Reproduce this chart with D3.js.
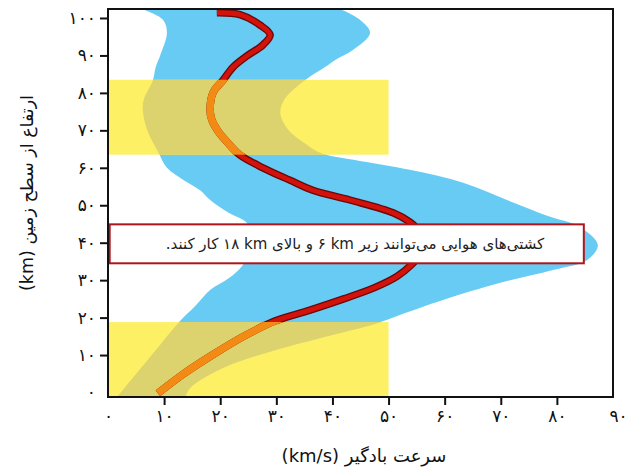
<!DOCTYPE html>
<html>
<head>
<meta charset="utf-8">
<script src="https://cdn.jsdelivr.net/npm/d3@7"></script>
<style>
    body { margin: 0; background: #fff; }
    text { font-family: "DejaVu Sans", sans-serif; }
</style>
</head>
<body>
<div id="chart-area"></div>
<script>
// wind speed vs altitude

// mean speed profile (km/s) against altitude (km)
let meanAlt = [101.4, 100.9, 98.1, 95.5, 92.8, 89.9, 86.9, 83.4, 80, 75.4, 72.8, 69.8, 66.1, 63.4, 60, 56.7, 54, 51.4, 48, 45.5, 43, 40, 37, 34, 31, 28, 25, 22, 19, 15, 10, 5, -0.2];
let meanSpeed = [19.4, 23.5, 27.1, 28.9, 27.6, 24.8, 22.3, 20.5, 18.7, 18.2, 18.5, 19.6, 21.7, 23.5, 27.6, 32.4, 36.5, 43.1, 50.8, 53.8, 55.5, 56.3, 55.7, 54, 51.5, 47.5, 42, 36, 29.6, 24.2, 18.6, 13.5, 8.9];

// spread around the mean: left edge (top to bottom)
let lowAlt = [104, 102.4, 99.5, 96, 90, 86.9, 83.4, 78.4, 75.4, 70, 64, 60, 56.7, 54, 51.4, 48, 45.2, 40, 34, 30.5, 27.4, 23, 19, 10, 0, -3];
let lowSpeed = [4.2, 6.2, 9.8, 10.5, 9.3, 8.5, 8.0, 6.4, 6.2, 7.0, 9.0, 10.5, 13.5, 16.4, 18.2, 21.5, 24.8, 25.8, 24.0, 21.5, 18.2, 15.5, 12.8, 7.8, 2.3, 0.8];

// spread around the mean: right edge (bottom to top)
let highAlt = [-3, -1.2, 1.4, 6.8, 11.3, 15.9, 18.3, 20.7, 24.7, 29.3, 32.7, 35.4, 39.4, 44.2, 46.9, 51.4, 56, 59.4, 62.1, 63.9, 66.1, 70, 74.6, 78.4, 83.4, 86.9, 88.8, 91.5, 96, 99.5, 102.4, 104];
let highSpeed = [12.9, 13.7, 14.8, 20.9, 29.8, 41.5, 47.6, 52.0, 59.7, 69.9, 79.3, 85.4, 87.3, 84.1, 78.8, 71.1, 63.3, 54.0, 44.0, 38.0, 35.5, 32.2, 30.7, 31.5, 35.1, 38.7, 40.5, 43.7, 46.7, 44.9, 41.4, 39.0];

// aircraft altitude bands (km) and their speed extent
let bandBottom = [-1.2, 63.5];
let bandTop = [18.8, 83.5];
let bandSpeed = 50;

let xTicks = [0, 10, 20, 30, 40, 50, 60, 70, 80, 90];
let xTickLabels = ["۰", "۱۰", "۲۰", "۳۰", "۴۰", "۵۰", "۶۰", "۷۰", "۸۰", "۹۰"];
let yTicks = [0, 10, 20, 30, 40, 50, 60, 70, 80, 90, 100];
let yTickLabels = ["۰", "۱۰", "۲۰", "۳۰", "۴۰", "۵۰", "۶۰", "۷۰", "۸۰", "۹۰", "۱۰۰"];

// the number+unit pairs are kept as left-to-right isolates so they read "km ۶" like the picture
let noteText = "کشتی‌های هوایی می‌توانند زیر \u2066۶ km\u2069 و بالای \u2066۱۸ km\u2069 کار کنند.";
let noteSpeed = [0.3, 84.8];
let noteAlt = [34.5, 44.9];

let xTitle = "سرعت بادگیر (km/s)";
let yTitle = "ارتفاع از سطح زمین (km)";

class WindChart {
    constructor(parentElement) {
        this.parentElement = parentElement;
        this.initVis();
    }

    initVis() {
        let vis = this;

        vis.width = 636;
        vis.height = 470;
        vis.left = 108;
        vis.right = 613;
        vis.top = 9;
        vis.bottom = 397;

        vis.svg = d3.select(vis.parentElement).append("svg")
            .attr("width", vis.width)
            .attr("height", vis.height);

        vis.x = d3.scaleLinear().domain([0, 90]).range([vis.left, vis.right]);
        vis.y = d3.scaleLinear().domain([-1.2, 102.4]).range([vis.bottom, vis.top]);

        let defs = vis.svg.append("defs");
        defs.append("clipPath").attr("id", "plot-clip")
            .append("rect")
            .attr("x", vis.left).attr("y", vis.top)
            .attr("width", vis.right - vis.left).attr("height", vis.bottom - vis.top);

        vis.bands = bandBottom.map((b, i) => ({ low: b, high: bandTop[i] }));
        defs.append("clipPath").attr("id", "band-clip")
            .selectAll("rect")
            .data(vis.bands)
            .enter().append("rect")
            .attr("x", vis.x(0))
            .attr("y", d => vis.y(d.high))
            .attr("width", vis.x(bandSpeed) - vis.x(0))
            .attr("height", d => vis.y(d.low) - vis.y(d.high));

        vis.plot = vis.svg.append("g").attr("clip-path", "url(#plot-clip)");

        vis.drawSpread();
        vis.drawMean();
        vis.drawNote();
        vis.drawAxes();
    }

    drawSpread() {
        let vis = this;

        let edge = lowAlt.map((a, i) => ({ alt: a, v: lowSpeed[i] }))
            .concat(highAlt.map((a, i) => ({ alt: a, v: highSpeed[i] })));

        let line = d3.line()
            .x(d => vis.x(d.v))
            .y(d => vis.y(d.alt))
            .curve(d3.curveCatmullRom.alpha(0.5));

        let path = line(edge) + "Z";

        vis.plot.append("path")
            .attr("d", path)
            .attr("fill", "#68cbf4");

        vis.plot.selectAll(".band")
            .data(vis.bands)
            .enter().append("rect")
            .attr("class", "band")
            .attr("x", vis.x(0))
            .attr("y", d => vis.y(d.high))
            .attr("width", vis.x(bandSpeed) - vis.x(0))
            .attr("height", d => vis.y(d.low) - vis.y(d.high))
            .attr("fill", "#fdf065");

        // spread seen through the yellow bands
        vis.plot.append("path")
            .attr("d", path)
            .attr("clip-path", "url(#band-clip)")
            .attr("fill", "#dcd36e");
    }

    drawMean() {
        let vis = this;

        let mean = meanAlt.map((a, i) => ({ alt: a, v: meanSpeed[i] }));

        let line = d3.line()
            .x(d => vis.x(d.v))
            .y(d => vis.y(d.alt))
            .curve(d3.curveCatmullRom.alpha(0.5));

        vis.plot.append("path")
            .attr("d", line(mean))
            .attr("fill", "none")
            .attr("stroke", "#6a0808")
            .attr("stroke-width", 7.5);

        vis.plot.append("path")
            .attr("d", line(mean))
            .attr("fill", "none")
            .attr("stroke", "#d3120c")
            .attr("stroke-width", 4.8);

        vis.plot.append("path")
            .attr("d", line(mean))
            .attr("clip-path", "url(#band-clip)")
            .attr("fill", "none")
            .attr("stroke", "#f28a14")
            .attr("stroke-width", 7.5);
    }

    drawNote() {
        let vis = this;

        vis.svg.append("rect")
            .attr("x", vis.x(noteSpeed[0]))
            .attr("y", vis.y(noteAlt[1]))
            .attr("width", vis.x(noteSpeed[1]) - vis.x(noteSpeed[0]))
            .attr("height", vis.y(noteAlt[0]) - vis.y(noteAlt[1]))
            .attr("fill", "white")
            .attr("stroke", "#b0141c")
            .attr("stroke-width", 2);

        vis.svg.append("text")
            .attr("x", 355)
            .attr("y", vis.y((noteAlt[0] + noteAlt[1]) / 2))
            .attr("direction", "rtl")
            .attr("text-anchor", "middle")
            .attr("dominant-baseline", "central")
            .attr("font-size", 15)
            .attr("fill", "#222")
            .text(noteText);
    }

    drawAxes() {
        let vis = this;

        vis.svg.append("rect")
            .attr("x", vis.left)
            .attr("y", vis.top)
            .attr("width", vis.right - vis.left)
            .attr("height", vis.bottom - vis.top)
            .attr("fill", "none")
            .attr("stroke", "#111")
            .attr("stroke-width", 2);

        let xAxis = d3.axisBottom(vis.x)
            .tickValues(xTicks)
            .tickFormat((d, i) => xTickLabels[i])
            .tickSize(8)
            .tickPadding(5);

        let yAxis = d3.axisLeft(vis.y)
            .tickValues(yTicks)
            .tickFormat((d, i) => yTickLabels[i])
            .tickSize(8)
            .tickPadding(4);

        let gx = vis.svg.append("g")
            .attr("class", "x-axis")
            .attr("transform", "translate(0," + vis.bottom + ")")
            .call(xAxis);

        let gy = vis.svg.append("g")
            .attr("class", "y-axis")
            .attr("transform", "translate(" + vis.left + ",0)")
            .call(yAxis);

        vis.svg.selectAll(".domain").remove();
        vis.svg.selectAll(".tick line").attr("stroke", "#111").attr("stroke-width", 2);
        gx.selectAll(".tick").filter(d => d === 0 || d === 90).select("line").remove();
        gy.selectAll(".tick").filter(d => d === 0).select("line").remove();
        gx.selectAll(".tick").filter(d => d === 90).select("text").attr("dx", 5);
        vis.svg.selectAll(".tick text")
            .attr("font-size", 17)
            .attr("font-family", "DejaVu Sans, sans-serif")
            .attr("fill", "#111");

        vis.svg.append("text")
            .attr("x", 364)
            .attr("y", 455)
            .attr("direction", "rtl")
            .attr("text-anchor", "middle")
            .attr("dominant-baseline", "central")
            .attr("font-size", 18)
            .attr("fill", "#111")
            .text(xTitle);

        vis.svg.append("text")
            .attr("transform", "translate(27,193) rotate(-90)")
            .attr("direction", "rtl")
            .attr("text-anchor", "middle")
            .attr("dominant-baseline", "central")
            .attr("font-size", 17.5)
            .attr("fill", "#111")
            .text(yTitle);
    }
}

let chart = new WindChart("#chart-area");
</script>
</body>
</html>
